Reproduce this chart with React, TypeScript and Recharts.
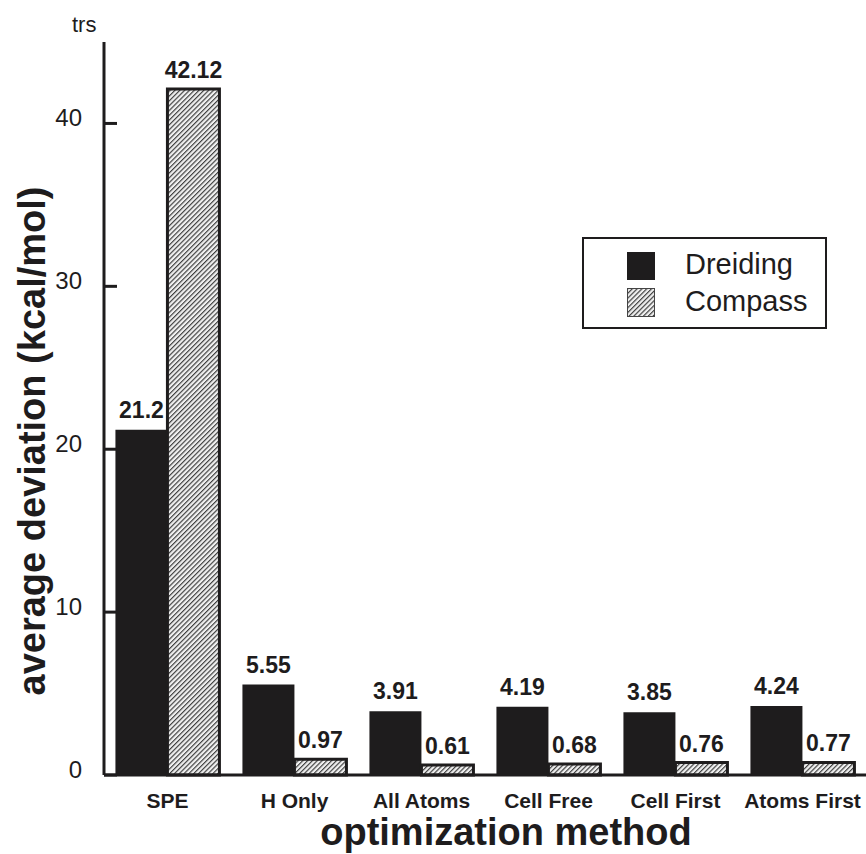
import React from "react";
import { BarChart, Bar, XAxis, YAxis, LabelList, Customized } from "recharts";

const methods = ["SPE", "H Only", "All Atoms", "Cell Free", "Cell First", "Atoms First"];
const dreiding = [21.2, 5.55, 3.91, 4.19, 3.85, 4.24];
const compass = [42.12, 0.97, 0.61, 0.68, 0.76, 0.77];
const yTicks = [0, 10, 20, 30, 40];

const data = methods.map((m, i) => ({ method: m, dreiding: dreiding[i], compass: compass[i] }));

const FONT = '"Liberation Sans", Arial, Helvetica, sans-serif';
const INK = "#1e1c1d";

const YTick = ({ x, y, payload }: any) => (
  <g>
    <line x1={x} x2={x + 13} y1={y} y2={y} stroke={INK} strokeWidth={3} />
    <text x={x - 22} y={y} dy={3} textAnchor="end" fontSize={24} fill={INK} fontFamily={FONT}>
      {payload.value}
    </text>
  </g>
);

const HatchDefs = ({ id }: { id: string }) => (
  <defs>
    <pattern id={id} width={3.4} height={3.4} patternUnits="userSpaceOnUse" patternTransform="rotate(45)">
      <rect width={3.4} height={3.4} fill="#f0f0f0" />
      <line x1={0.6} y1={0} x2={0.6} y2={3.4} stroke="#333" strokeWidth={1.1} />
    </pattern>
  </defs>
);

// legend box drawn as a plain overlay so it doesn't eat plot space
const LegendBox = () => (
  <div
    style={{
      position: "absolute",
      left: 582,
      top: 237,
      width: 245,
      height: 92,
      border: `2px solid ${INK}`,
      boxSizing: "border-box",
      background: "#fff",
      fontFamily: FONT,
      color: INK,
    }}
  >
    <svg width={30} height={70} style={{ position: "absolute", left: 42, top: 12 }}>
      <HatchDefs id="hatchLegend" />
      <rect x={1} y={1} width={28} height={28} fill={INK} />
      <rect x={1.5} y={37.5} width={27} height={28} fill="url(#hatchLegend)" stroke="#444" strokeWidth={1} />
    </svg>
    <div style={{ position: "absolute", left: 101, top: 7, fontSize: 29, lineHeight: "36px" }}>Dreiding</div>
    <div style={{ position: "absolute", left: 101, top: 44, fontSize: 29, lineHeight: "36px" }}>Compass</div>
  </div>
);

const Extras = () => (
  <g>
    <HatchDefs id="hatchBar" />
    <text x={72} y={32} fontSize={22} fill={INK} fontFamily={FONT}>
      trs
    </text>
  </g>
);

export default function App() {
  return (
    <div style={{ position: "absolute", left: 0, top: 0, width: 866, height: 854, background: "#fff" }}>
      <BarChart
        width={866}
        height={854}
        data={data}
        margin={{ top: 42, right: 0, left: 0, bottom: 0 }}
        barCategoryGap="9%"
        barGap={0}
      >
        <Customized component={Extras} />
        <XAxis
          dataKey="method"
          height={79}
          axisLine={{ stroke: INK, strokeWidth: 3 }}
          tickLine={false}
          tickSize={0}
          tickMargin={18}
          interval={0}
          tick={{ fontSize: 21, fontWeight: "bold", fill: INK, fontFamily: FONT }}
          label={() => (
            <text x={506} y={845} textAnchor="middle" fontSize={38} fontWeight="bold" fill={INK} fontFamily={FONT}>
              optimization method
            </text>
          )}
        />
        <YAxis
          width={104}
          domain={[0, 45]}
          ticks={yTicks}
          axisLine={{ stroke: INK, strokeWidth: 3 }}
          tickLine={false}
          tickSize={0}
          tickMargin={0}
          tick={<YTick />}
          label={() => (
            <text
              x={0}
              y={0}
              transform="translate(45, 441) rotate(-90)"
              textAnchor="middle"
              fontSize={38}
              fontWeight="bold"
              fill={INK}
              fontFamily={FONT}
            >
              average deviation (kcal/mol)
            </text>
          )}
        />
        <Bar dataKey="dreiding" name="Dreiding" fill={INK} isAnimationActive={false}>
          <LabelList
            dataKey="dreiding"
            position="top"
            offset={12}
            fontSize={23}
            fontWeight="bold"
            fill={INK}
            fontFamily={FONT}
          />
        </Bar>
        <Bar dataKey="compass" name="Compass" fill="url(#hatchBar)" stroke={INK} strokeWidth={3} isAnimationActive={false}>
          <LabelList
            dataKey="compass"
            position="top"
            offset={11}
            fontSize={23}
            fontWeight="bold"
            fill={INK}
            fontFamily={FONT}
          />
        </Bar>
      </BarChart>
      <LegendBox />
    </div>
  );
}
